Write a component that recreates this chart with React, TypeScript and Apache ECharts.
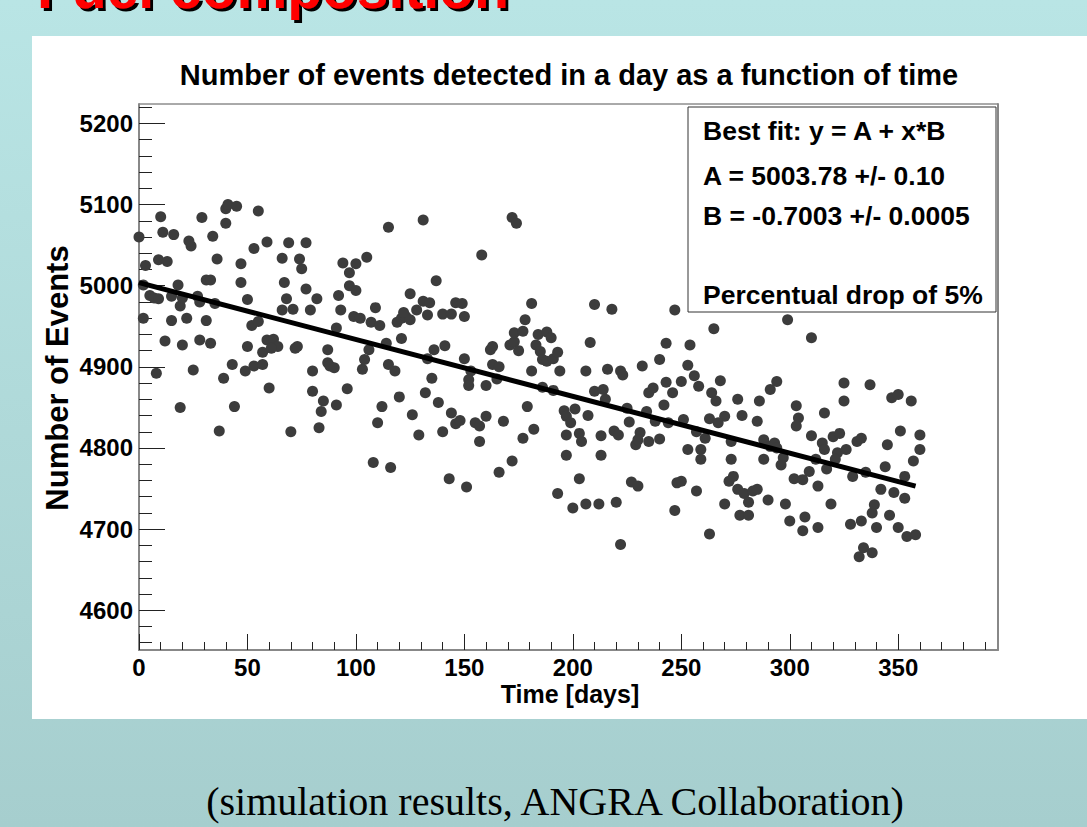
import React, { useEffect, useRef } from "react";
import * as echarts from "echarts";

// ---- data ----
const days = [
  0, 3, 2, 2, 5, 7, 9, 10, 11, 16, 9, 13, 18, 15, 19, 15, 22, 20, 12, 20, 8, 24, 23, 29, 34, 36, 31, 33, 27, 28,
  31, 28, 33, 25, 39, 40, 41, 45, 40, 35, 47, 47, 50, 43, 49, 52, 55, 50, 53, 55, 59, 53, 57, 57, 59, 62, 64, 61, 60, 66,
  69, 67, 68, 71, 66, 72, 73, 74, 75, 77, 77, 79, 82, 80, 80, 87, 87, 88, 90, 91, 92, 93, 94, 97, 100, 97, 100, 99, 102, 96,
  103, 104, 105, 106, 107, 111, 109, 114, 115, 118, 115, 119, 121, 123, 125, 122, 121, 125, 128, 131, 131, 133, 133, 120, 132,
  19, 37, 44, 70, 85, 84, 83, 91, 108, 110, 112, 116, 126, 129,
  172, 174, 158, 137, 134, 140, 144, 146, 149, 150, 136, 141, 150, 135, 162, 163, 163, 166, 153, 152, 152, 160, 165, 171, 173,
  173, 177, 175, 178, 181, 181, 184, 188, 190, 183, 185, 186, 188, 191, 193, 194, 186, 191, 208, 210, 218, 206, 210, 214, 216,
  222, 223, 232, 240, 243, 247, 254, 253, 256, 250, 243, 246, 235, 237, 258,
  138, 140, 144, 146, 148, 143, 151, 155, 157, 160, 157, 168, 166, 172, 177, 179, 182, 196, 197, 199, 201, 197, 203, 204, 197,
  207, 203, 193, 200, 206, 212, 213, 213, 215, 219, 221, 220, 222, 225, 226, 231, 235, 229, 230, 240, 227, 230, 242, 234, 238,
  244, 251, 253, 248, 250, 247, 257, 257, 259,
  299, 265, 310, 268, 264, 266, 270, 276, 278, 286, 291, 294, 285, 303, 304, 316, 325, 325, 337, 347, 350, 356,
  263, 267, 261, 259, 263, 270, 272, 274, 276, 279, 281, 283, 285, 277, 281, 273, 273, 288, 288, 290, 291, 293, 294, 297, 296,
  298, 300, 302, 306, 307, 306, 309, 313, 313, 303, 310, 312, 315, 316, 319, 317, 320, 323, 322, 321, 326, 329, 328, 331, 333,
  332, 334, 338, 333, 338, 335, 339, 340, 342, 344, 345, 346, 348, 351, 350, 353, 353, 354, 358, 357, 360, 360,
];

const events = [
  5060, 5025, 4960, 5001, 4988, 4985, 4984, 5085, 5066, 5063, 5032, 5030, 5001, 4987, 4975, 4957, 4960, 4985, 4932, 4927, 4892, 5049, 5055, 5084, 5061, 5033, 5007, 5007, 4987, 4980,
  4957, 4933, 4929, 4896, 4886, 5095, 5100, 5098, 5077, 4978, 5004, 5027, 4983, 4903, 4895, 4951, 4956, 4925, 5046, 5092, 5054, 4901, 4903, 4918, 4933, 4934, 4925, 4923, 4874, 5034,
  5053, 5004, 4984, 4971, 4970, 4923, 4925, 5033, 5021, 5053, 4996, 4970, 4984, 4895, 4870, 4921, 4905, 4901, 4899, 4948, 4988, 4970, 5028, 5016, 5027, 5000, 4994, 4962, 4960, 4873,
  4897, 4909, 5035, 4921, 4955, 4951, 4973, 4929, 4903, 4895, 5072, 4955, 4960, 4962, 4958, 4967, 4935, 4990, 4970, 5081, 4981, 4964, 4910, 4863, 4868,
  4850, 4821, 4851, 4820, 4858, 4845, 4825, 4853, 4782, 4831, 4851, 4776, 4841, 4816,
  5084, 5077, 5038, 5006, 4979, 4965, 4965, 4979, 4978, 4962, 4921, 4926, 4910, 4886, 4921, 4925, 4903, 4900, 4895, 4884, 4877, 4877, 4885, 4927, 4931,
  4942, 4944, 4920, 4958, 4978, 4895, 4940, 4943, 4936, 4927, 4919, 4909, 4907, 4910, 4918, 4895, 4875, 4871, 4930, 4977, 4971, 4895, 4870, 4872, 4897,
  4895, 4890, 4901, 4909, 4929, 4970, 4927, 4902, 4889, 4882, 4881, 4868, 4868, 4874, 4876,
  4856, 4820, 4843, 4830, 4834, 4762, 4752, 4831, 4827, 4839, 4808, 4833, 4770, 4784, 4812, 4851, 4823, 4846, 4839, 4831, 4848, 4816, 4818, 4808, 4791,
  4840, 4762, 4744, 4726, 4731, 4731, 4815, 4791, 4860, 4821, 4816, 4733, 4681, 4849, 4832, 4819, 4808, 4804, 4810, 4811, 4758, 4753, 4853, 4845, 4833,
  4831, 4835, 4798, 4757, 4759, 4723, 4747, 4820, 4786,
  4958, 4947, 4936, 4883, 4868, 4858, 4839, 4860, 4840, 4858, 4872, 4882, 4833, 4852, 4837, 4843, 4880, 4858, 4878, 4862, 4866, 4858,
  4836, 4831, 4812, 4798, 4694, 4731, 4759, 4765, 4749, 4744, 4733, 4747, 4749, 4717, 4717, 4786, 4808, 4810, 4786, 4736, 4802, 4806, 4800, 4788, 4779,
  4731, 4710, 4762, 4698, 4715, 4761, 4771, 4753, 4702, 4827, 4815, 4786, 4806, 4798, 4731, 4774, 4814, 4818, 4794, 4786, 4798, 4765, 4706, 4808, 4812,
  4666, 4677, 4671, 4710, 4720, 4770, 4730, 4702, 4749, 4777, 4804, 4717, 4745, 4821, 4702, 4738, 4765, 4691, 4693, 4784, 4798, 4816,
];

// fitted straight line: y = A + x*B, drawn between its two end points
const fitDays = [0, 358];
const fitEvents = [5003.78, 4753.07];

const titleText = "Number of events detected in a day as a function of time";
const xTitle = "Time [days]";
const yTitle = "Number of Events";
const statsLines = ["Best fit: y = A + x*B", "A = 5003.78 +/- 0.10", "B = -0.7003 +/- 0.0005", "Percentual drop of 5%"];
const slideTitle = "Fuel composition";
const caption = "(simulation results, ANGRA Collaboration)";

const xMajorTicks = [0, 50, 100, 150, 200, 250, 300, 350];
const xMinorTicks = [
  10, 20, 30, 40, 60, 70, 80, 90, 110, 120, 130, 140, 160, 170, 180, 190, 210, 220, 230, 240, 260, 270, 280, 290,
  310, 320, 330, 340, 360, 370, 380, 390,
];
const yMajorTicks = [4600, 4700, 4800, 4900, 5000, 5100, 5200];
const yMinorTicks = [
  4560, 4580, 4620, 4640, 4660, 4680, 4720, 4740, 4760, 4780, 4820, 4840, 4860, 4880, 4920, 4940, 4960, 4980,
  5020, 5040, 5060, 5080, 5120, 5140, 5160, 5180, 5220,
];

const X_MIN = 0;
const X_MAX = 396;
const Y_MIN = 4551;
const Y_MAX = 5224;

const SANS = "'Liberation Sans', Arial, Helvetica, sans-serif";
const SERIF = "'Liberation Serif', 'Times New Roman', serif";

export default function App() {
  const ref = useRef<HTMLDivElement | null>(null);

  useEffect(() => {
    if (!ref.current) return;
    const chart = echarts.init(ref.current, undefined, { renderer: "svg" });
    const tickLine = { color: "#222", width: 1 };
    const labelStyle = {
      fontFamily: SANS,
      fontSize: 24,
      fontWeight: "bold" as const,
      color: "#000",
    };

    const option: any = {
      animation: false,
      title: {
        text: titleText,
        left: 564,
        top: 55,
        textAlign: "center",
        textStyle: { fontFamily: SANS, fontSize: 29, fontWeight: "bold", color: "#000" },
      },
      grid: {
        left: 139,
        right: 89,
        top: 104,
        bottom: 177,
        show: true,
        backgroundColor: "#fff",
        borderColor: "#555",
        borderWidth: 1,
      },
      xAxis: [
        {
          type: "value",
          min: X_MIN,
          max: X_MAX,
          position: "bottom",
          axisLine: { show: true, onZero: false, lineStyle: { color: "#888", width: 2 } },
          axisTick: { show: true, inside: true, length: 16, customValues: xMajorTicks, lineStyle: tickLine },
          axisLabel: { ...labelStyle, customValues: xMajorTicks, margin: 5, formatter: (v: number) => String(v) },
          splitLine: { show: false },
        },
        {
          type: "value",
          min: X_MIN,
          max: X_MAX,
          position: "bottom",
          axisLine: { show: false },
          axisTick: { show: true, inside: true, length: 8, customValues: xMinorTicks, lineStyle: tickLine },
          axisLabel: { show: false },
          splitLine: { show: false },
        },
      ],
      yAxis: [
        {
          type: "value",
          min: Y_MIN,
          max: Y_MAX,
          position: "left",
          axisLine: { show: true, onZero: false, lineStyle: { color: "#888", width: 2 } },
          axisTick: { show: true, inside: true, length: 26, customValues: yMajorTicks, lineStyle: tickLine },
          axisLabel: { ...labelStyle, customValues: yMajorTicks, margin: 6, formatter: (v: number) => String(v) },
          splitLine: { show: false },
        },
        {
          type: "value",
          min: Y_MIN,
          max: Y_MAX,
          position: "right",
          axisLine: { show: true, onZero: false, lineStyle: { color: "#888", width: 2 } },
          axisTick: { show: false },
          axisLabel: { show: false },
          splitLine: { show: false },
        },
        {
          type: "value",
          min: Y_MIN,
          max: Y_MAX,
          position: "left",
          axisLine: { show: false },
          axisTick: { show: true, inside: true, length: 13, customValues: yMinorTicks, lineStyle: tickLine },
          axisLabel: { show: false },
          splitLine: { show: false },
        },
      ],
      series: [
        {
          type: "scatter",
          xAxisIndex: 0,
          yAxisIndex: 0,
          data: days.map((d, i) => [d, events[i]]),
          symbol: "circle",
          symbolSize: 11,
          itemStyle: { color: "#3c3c3c", opacity: 1 },
          z: 2,
        },
        {
          type: "line",
          xAxisIndex: 0,
          yAxisIndex: 0,
          data: fitDays.map((d, i) => [d, fitEvents[i]]),
          symbol: "none",
          lineStyle: { color: "#000", width: 5 },
          z: 3,
        },
      ],
      graphic: [
        {
          type: "rect",
          z: -5,
          silent: true,
          shape: { x: 32, y: 36, width: 1055, height: 683 },
          style: { fill: "#fff" },
        },
        {
          type: "text",
          z: 5,
          silent: true,
          x: 37,
          y: -12,
          style: {
            text: slideTitle,
            fill: "#ff0000",
            fontSize: 57,
            fontWeight: "bold",
            fontFamily: SANS,
            align: "left",
            verticalAlign: "middle",
            textShadowColor: "#000",
            textShadowOffsetX: 3,
            textShadowOffsetY: 3,
            textShadowBlur: 0.5,
          },
        },
        {
          type: "text",
          z: 5,
          silent: true,
          x: 555,
          y: 801,
          style: {
            text: caption,
            fill: "#000",
            fontSize: 40,
            fontFamily: SERIF,
            align: "center",
            verticalAlign: "middle",
          },
        },
        {
          type: "text",
          z: 5,
          silent: true,
          x: 570,
          y: 694,
          style: {
            text: xTitle,
            fill: "#000",
            fontSize: 25,
            fontWeight: "bold",
            fontFamily: SANS,
            align: "center",
            verticalAlign: "middle",
          },
        },
        {
          type: "text",
          z: 5,
          silent: true,
          x: 57,
          y: 378,
          rotation: Math.PI / 2,
          style: {
            text: yTitle,
            fill: "#000",
            fontSize: 31,
            fontWeight: "bold",
            fontFamily: SANS,
            align: "center",
            verticalAlign: "middle",
          },
        },
        {
          type: "rect",
          z: 50,
          silent: true,
          shape: { x: 688, y: 107, width: 308, height: 205 },
          style: { fill: "#fff", stroke: "#333", lineWidth: 1 },
        },
        ...statsLines.map((t, i) => ({
          type: "text",
          z: 51,
          silent: true,
          x: 703,
          y: [131, 176, 216, 295][i],
          style: {
            text: t,
            fill: "#000",
            fontSize: 26.5,
            fontWeight: "bold",
            fontFamily: SANS,
            align: "left",
            verticalAlign: "middle",
          },
        })),
      ],
    };

    chart.setOption(option);
    return () => {
      chart.dispose();
    };
  }, []);

  return (
    <div
      ref={ref}
      style={{
        position: "absolute",
        left: 0,
        top: 0,
        width: 1087,
        height: 827,
        background: "linear-gradient(to bottom, #b9e5e5 0%, #a6cece 100%)",
      }}
    />
  );
}
